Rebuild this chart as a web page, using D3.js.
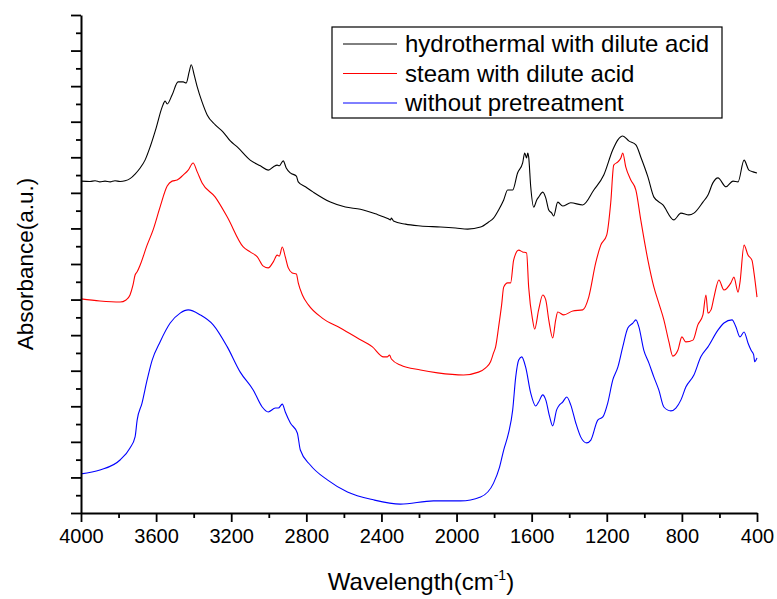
<!DOCTYPE html>
<html>
<head>
<meta charset="utf-8">
<script src="https://cdn.jsdelivr.net/npm/d3@7"></script>
<style>
  body { margin: 0; background: #fff; }
  text { font-family: Arial, 'Liberation Sans', sans-serif; fill: #000; }
</style>
</head>
<body>
<svg id="chart" width="777" height="599"></svg>
<script>
// series names + colours
var seriesNames = ['hydrothermal with dilute acid', 'steam with dilute acid', 'without pretreatment'];
var seriesColors = ['#000000', '#ff0000', '#0000ff'];

// x tick labels (cm-1)
var xTickLabels = [4000, 3600, 3200, 2800, 2400, 2000, 1600, 1200, 800, 400];

// hydrothermal with dilute acid
var hydroWn = [4000, 3952, 3925, 3899, 3872, 3845, 3819, 3792, 3765, 3739, 3712, 3685, 3659, 3632, 3600, 3568, 3552, 3541, 3515, 3483, 3456, 3440, 3424, 3413, 3397, 3381, 3355, 3328, 3285, 3243, 3205, 3168, 3099, 3045, 3003, 2976, 2955, 2944, 2923, 2907, 2885, 2853, 2843, 2805, 2763, 2672, 2592, 2512, 2432, 2363, 2352, 2347, 2336, 2272, 2192, 2085, 2005, 1941, 1872, 1829, 1803, 1776, 1749, 1728, 1701, 1675, 1648, 1637, 1627, 1621, 1616, 1605, 1589, 1573, 1563, 1541, 1525, 1509, 1493, 1483, 1461, 1435, 1392, 1328, 1269, 1216, 1168, 1141, 1115, 1083, 1045, 1019, 981, 949, 901, 843, 805, 763, 736, 688, 661, 635, 608, 565, 528, 501, 469, 443, 421, 400];
var hydroAbs = [9.33, 9.32, 9.34, 9.31, 9.33, 9.31, 9.34, 9.32, 9.34, 9.40, 9.53, 9.70, 9.92, 10.29, 10.82, 11.41, 11.58, 11.50, 11.75, 12.12, 12.12, 12.09, 12.40, 12.60, 12.31, 11.98, 11.55, 11.19, 10.91, 10.71, 10.46, 10.29, 9.92, 9.76, 9.64, 9.73, 9.78, 9.76, 9.90, 9.70, 9.56, 9.47, 9.31, 9.17, 9.02, 8.74, 8.60, 8.54, 8.41, 8.27, 8.24, 8.29, 8.21, 8.12, 8.07, 8.04, 8.01, 7.98, 8.04, 8.18, 8.29, 8.52, 8.80, 9.08, 9.08, 9.56, 9.84, 10.12, 9.98, 10.12, 10.01, 9.17, 8.60, 8.80, 8.88, 9.02, 8.86, 8.52, 8.43, 8.35, 8.74, 8.63, 8.72, 8.66, 9.08, 9.50, 10.21, 10.49, 10.60, 10.46, 10.35, 10.01, 9.45, 8.88, 8.66, 8.24, 8.43, 8.38, 8.43, 8.74, 8.94, 9.28, 9.42, 9.17, 9.33, 9.31, 9.92, 9.64, 9.59, 9.56];

// steam with dilute acid
var steamWn = [4000, 3899, 3792, 3760, 3739, 3723, 3712, 3701, 3685, 3648, 3616, 3579, 3541, 3515, 3488, 3456, 3429, 3403, 3381, 3355, 3285, 3221, 3136, 3099, 3061, 3029, 3003, 2976, 2955, 2944, 2928, 2912, 2896, 2875, 2853, 2843, 2821, 2789, 2715, 2619, 2528, 2448, 2389, 2368, 2357, 2347, 2299, 2192, 2101, 1963, 1883, 1845, 1819, 1803, 1792, 1776, 1760, 1749, 1728, 1712, 1696, 1669, 1648, 1627, 1616, 1595, 1584, 1563, 1541, 1525, 1509, 1488, 1472, 1461, 1429, 1381, 1328, 1296, 1259, 1232, 1200, 1179, 1163, 1141, 1125, 1115, 1099, 1072, 1045, 1019, 981, 949, 923, 896, 869, 848, 821, 800, 779, 741, 715, 688, 672, 661, 645, 629, 603, 576, 539, 523, 501, 491, 469, 448, 427, 416, 400];
var steamAbs = [6.02, 5.96, 5.93, 5.99, 6.13, 6.41, 6.69, 6.78, 6.97, 7.53, 7.96, 8.60, 9.19, 9.33, 9.36, 9.50, 9.64, 9.84, 9.59, 9.28, 8.88, 8.32, 7.48, 7.34, 7.20, 6.94, 6.89, 7.06, 7.25, 7.22, 7.48, 7.20, 6.89, 6.75, 6.72, 6.47, 6.13, 5.85, 5.48, 5.20, 4.92, 4.67, 4.39, 4.39, 4.44, 4.33, 4.16, 4.02, 3.94, 3.88, 3.96, 4.08, 4.25, 4.50, 4.67, 5.23, 5.85, 6.35, 6.47, 6.47, 7.11, 7.39, 7.34, 7.31, 6.35, 5.43, 5.17, 5.71, 6.13, 5.99, 5.43, 4.92, 5.43, 5.65, 5.57, 5.68, 5.71, 6.07, 7.03, 7.53, 7.82, 8.72, 9.78, 9.87, 9.98, 10.12, 9.73, 9.36, 9.08, 8.24, 7.11, 6.35, 5.90, 5.43, 4.81, 4.41, 4.58, 4.95, 4.81, 4.86, 5.29, 5.57, 6.13, 5.62, 5.71, 6.07, 6.55, 6.27, 6.47, 6.63, 6.21, 6.47, 7.53, 7.25, 7.11, 6.75, 6.07];

// without pretreatment
var rawWn = [4000, 3899, 3792, 3739, 3712, 3701, 3675, 3648, 3621, 3579, 3525, 3472, 3429, 3365, 3296, 3221, 3152, 3083, 3035, 3003, 2965, 2949, 2928, 2912, 2885, 2848, 2832, 2779, 2688, 2581, 2443, 2299, 2123, 1979, 1872, 1803, 1771, 1749, 1723, 1701, 1685, 1669, 1653, 1632, 1605, 1579, 1563, 1541, 1525, 1504, 1488, 1467, 1456, 1435, 1413, 1392, 1365, 1339, 1307, 1285, 1248, 1221, 1195, 1168, 1141, 1115, 1088, 1061, 1045, 1029, 1003, 976, 949, 923, 896, 859, 832, 805, 779, 736, 699, 661, 608, 576, 533, 512, 491, 469, 448, 432, 418, 412, 405, 400];
var rawAbs = [1.10, 1.21, 1.49, 1.83, 2.14, 2.61, 3.09, 3.74, 4.30, 4.81, 5.34, 5.62, 5.71, 5.57, 5.29, 4.67, 3.96, 3.46, 2.98, 2.84, 2.95, 2.95, 3.06, 2.84, 2.53, 2.25, 1.77, 1.35, 0.93, 0.59, 0.37, 0.25, 0.34, 0.34, 0.45, 0.84, 1.29, 1.77, 2.25, 2.90, 3.82, 4.30, 4.39, 4.10, 3.37, 3.01, 3.12, 3.32, 3.18, 2.70, 2.45, 2.90, 3.01, 3.12, 3.26, 3.04, 2.53, 2.14, 1.97, 2.05, 2.61, 2.70, 3.09, 3.74, 4.10, 4.67, 5.20, 5.34, 5.43, 5.23, 4.58, 4.22, 3.82, 3.46, 2.98, 2.87, 2.95, 3.18, 3.54, 3.88, 4.39, 4.67, 5.14, 5.34, 5.43, 5.23, 4.95, 5.09, 4.78, 4.58, 4.45, 4.25, 4.30, 4.36];

var allWn = [hydroWn, steamWn, rawWn];
var allAbs = [hydroAbs, steamAbs, rawAbs];

var margin = { left: 81, right: 20, top: 15, bottom: 86 };
var width = 777, height = 599;

var svg = d3.select('#chart');

var x = d3.scaleLinear()
    .domain([4000, 400])
    .range([margin.left, width - margin.right]);

var y = d3.scaleLinear()
    .domain([0, 14])
    .range([height - margin.bottom, margin.top]);

var line = d3.line()
    .x(d => x(d[0]))
    .y(d => y(d[1]))
    .curve(d3.curveMonotoneX);

// spectra
for (var s = 0; s < allWn.length; s++) {
    var pts = allWn[s].map((w, i) => [w, allAbs[s][i]]);
    svg.append('path')
        .datum(pts)
        .attr('fill', 'none')
        .attr('stroke', seriesColors[s])
        .attr('stroke-width', 1.1)
        .attr('d', line);
}

// bottom axis - major ticks with labels, minor ticks in between
var xAxis = svg.append('g')
    .attr('transform', 'translate(0,' + y(0) + ')');
xAxis.call(d3.axisBottom(x).tickValues(d3.range(3800, 400, -400)).tickSize(5).tickFormat(''));
xAxis.call(g => g.select('.domain').remove());
var xMajor = svg.append('g')
    .attr('transform', 'translate(0,' + y(0) + ')')
    .call(d3.axisBottom(x).tickValues(xTickLabels).tickSize(9).tickPadding(7).tickSizeOuter(0).tickFormat(d3.format('d')));
xMajor.selectAll('text').attr('font-size', 20).attr('font-family', "Arial, 'Liberation Sans', sans-serif");
xMajor.select('.domain').attr('stroke-width', 2);

// left axis, no labels
var yMinor = svg.append('g')
    .attr('transform', 'translate(' + x(4000) + ',0)')
    .call(d3.axisLeft(y).tickValues(d3.range(0.5, 14, 1)).tickSize(5).tickFormat(''));
yMinor.select('.domain').remove();
var yMajor = svg.append('g')
    .attr('transform', 'translate(' + x(4000) + ',0)')
    .call(d3.axisLeft(y).tickValues(d3.range(0, 15, 1)).tickSize(10).tickFormat('').tickSizeOuter(0));
yMajor.select('.domain').attr('stroke-width', 2);
svg.selectAll('.tick line').attr('stroke-width', 1.8);

// axis titles
var xTitle = svg.append('text')
    .attr('x', 421)
    .attr('y', 590)
    .attr('text-anchor', 'middle')
    .attr('font-size', 24);
xTitle.append('tspan').text('Wavelength(cm');
xTitle.append('tspan').attr('font-size', 14).attr('dy', -10).text('-1');
xTitle.append('tspan').attr('dy', 10).text(')');

svg.append('text')
    .attr('transform', 'translate(33,264) rotate(-90)')
    .attr('text-anchor', 'middle')
    .attr('font-size', 22.5)
    .text('Absorbance(a.u.)');

// legend
var legend = svg.append('g');
legend.append('rect')
    .attr('x', 332).attr('y', 27)
    .attr('width', 390).attr('height', 91)
    .attr('fill', '#fff')
    .attr('stroke', '#000')
    .attr('stroke-width', 1.2);

var rows = legend.selectAll('.row')
    .data(seriesNames)
    .enter()
    .append('g')
    .attr('class', 'row')
    .attr('transform', (d, i) => 'translate(0,' + (44 + i * 29.5) + ')');
rows.append('line')
    .attr('x1', 343).attr('x2', 397)
    .attr('y1', 0).attr('y2', 0)
    .attr('stroke', (d, i) => seriesColors[i])
    .attr('stroke-width', 1);
rows.append('text')
    .attr('x', 405)
    .attr('y', 8)
    .attr('font-size', 24)
    .text(d => d);
</script>
</body>
</html>
